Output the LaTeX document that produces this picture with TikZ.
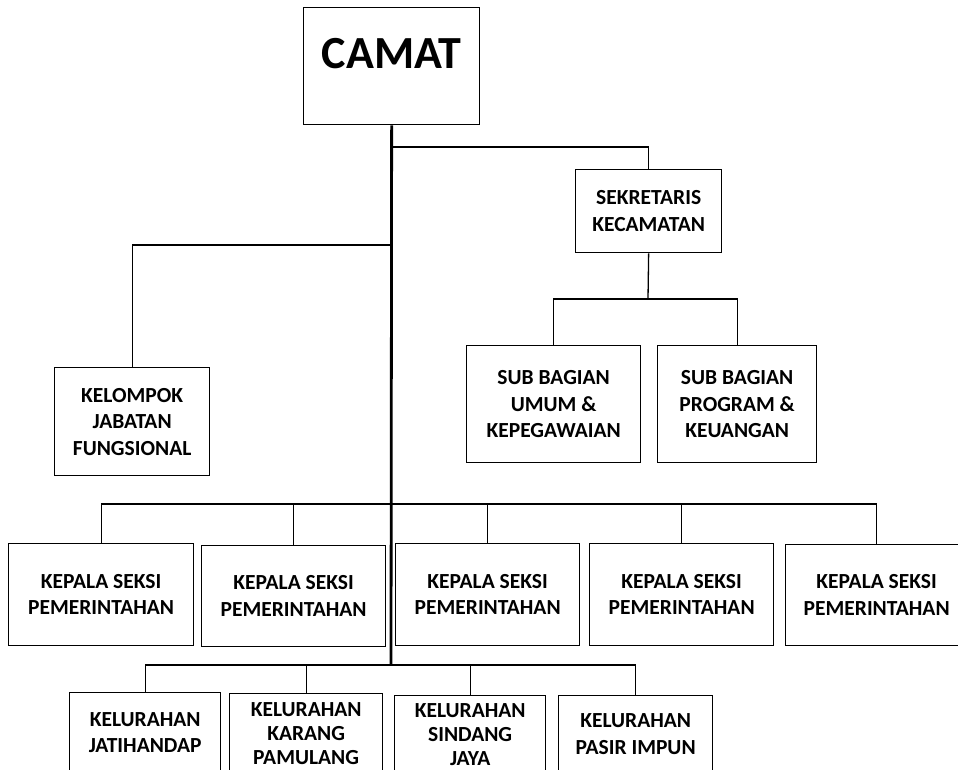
\documentclass[tikz,border=0pt]{standalone}
\usepackage{fontspec}
\setmainfont{Carlito}
\tikzset{
  box/.style={draw, line width=1.3pt, inner sep=0pt, align=center, anchor=north west,
    font=\bfseries\fontsize{21.5}{26.5}\selectfont},
  tight/.style={font=\bfseries\fontsize{21.5}{24}\selectfont},
  conn/.style={draw, line width=1.3pt},
  trunk/.style={draw, line width=2.8pt}
}
\begin{document}
\begin{tikzpicture}[x=1pt,y=-1pt]
\useasboundingbox (0,0) rectangle (958,770);
\clip (0,0) rectangle (958,770);
\fill[white] (0,0) rectangle (958,770);
% boxes
\node[box, minimum width=176pt, minimum height=117pt, font=\bfseries\fontsize{46}{52}\selectfont, text height=31pt, text depth=26pt] (camat) at (303,7) {CAMAT};
\node[box, minimum width=146pt, minimum height=83pt] (sek) at (575,169) {SEKRETARIS\\KECAMATAN};
\node[box, minimum width=174pt, minimum height=117pt] (sbu) at (466,345) {SUB BAGIAN\\UMUM \&\\KEPEGAWAIAN};
\node[box, minimum width=159pt, minimum height=117pt] (sbp) at (657,345) {SUB BAGIAN\\PROGRAM \&\\KEUANGAN};
\node[box, minimum width=155pt, minimum height=108pt] (kel) at (54,367) {KELOMPOK\\JABATAN\\FUNGSIONAL};
\node[box, minimum width=185pt, minimum height=102pt] (k1) at (8,543) {KEPALA SEKSI\\PEMERINTAHAN};
\node[box, minimum width=184pt, minimum height=101pt] (k2) at (201,545) {KEPALA SEKSI\\PEMERINTAHAN};
\node[box, minimum width=184pt, minimum height=102pt] (k3) at (395,543) {KEPALA SEKSI\\PEMERINTAHAN};
\node[box, minimum width=184pt, minimum height=102pt] (k4) at (589,543) {KEPALA SEKSI\\PEMERINTAHAN};
\node[box, minimum width=182pt, minimum height=101pt] (k5) at (785,544) {KEPALA SEKSI\\PEMERINTAHAN};
\node[box, minimum width=151pt, minimum height=80pt] (l1) at (69,692) {KELURAHAN\\JATIHANDAP};
\node[box, tight, minimum width=153pt, minimum height=79pt] (l2) at (229,693) {KELURAHAN\\KARANG\\PAMULANG};
\node[box, tight, minimum width=151pt, minimum height=77pt] (l3) at (394,695) {KELURAHAN\\SINDANG\\JAYA};
\node[box, minimum width=154pt, minimum height=77pt] (l4) at (558,695) {KELURAHAN\\PASIR IMPUN};
% junction coordinates
\coordinate (jsek) at (391,147);
\coordinate (jkel) at (391,245);
\coordinate (jsub) at (648,299);
\coordinate (jkep) at (391,504);
\coordinate (jlur) at (391,665);
% connectors
\draw[conn] (jsek) -| (sek.north);
\draw[conn] (jkel) -| (kel.north);
\draw[conn] (sek.south) -- (jsub);
\draw[conn] (jsub) -| (sbu.north);
\draw[conn] (jsub) -| (sbp.north);
\draw[conn] (jkep) -| (k1.north);
\draw[conn] (jkep) -| (k2.north);
\draw[conn] (jkep) -| (k3.north);
\draw[conn] (jkep) -| (k4.north);
\draw[conn] (jkep) -| (k5.north);
\draw[conn] (jlur) -| (l1.north);
\draw[conn] (jlur) -| (l2.north);
\draw[conn] (jlur) -| (l3.north);
\draw[conn] (jlur) -| (l4.north);
\draw[trunk] (camat.south) -- (jlur);
\end{tikzpicture}
\end{document}
